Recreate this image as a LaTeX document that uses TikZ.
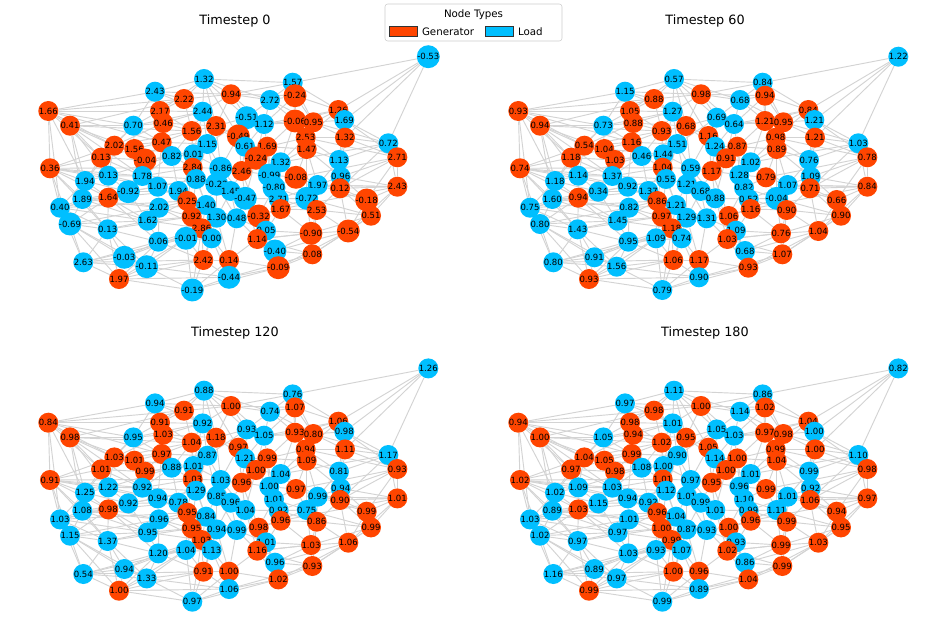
\documentclass[tikz,border=0pt]{standalone}
\usepackage{fontspec}
\setmainfont{DejaVu Sans}
\usetikzlibrary{%
    backgrounds,
    positioning
}
\definecolor{gencolor}{HTML}{FF4500}
\definecolor{loadcolor}{HTML}{00BFFF}
\definecolor{wirecolor}{HTML}{D3D3D3}
\tikzset{
    bus/.style = {circle, minimum size=15pt, inner sep=0pt, font=\fontsize{6.4}{6.4}\selectfont},
    gen/.style = {bus, fill=gencolor},
    load/.style = {bus, fill=loadcolor},
    wire/.style = {draw=wirecolor, line width=.7pt},
    paneltitle/.style = {font=\fontsize{9.6}{11}\selectfont},
    legendpatch/.style = {draw=black!80, line width=.4pt, minimum width=21pt, minimum height=7.5pt, inner sep=0pt},
    legendtext/.style = {font=\fontsize{7.7}{9}\selectfont, inner sep=0pt}
}
\newcommand\busedges{%
    a02/a03, a02/a04, a02/a12, a02/a06, a02/a20, a02/a15, a02/b02, a02/a09,
    a02/a07, a02/a10, a02/a01,
    a03/a07, a03/a15, a03/a19, a03/a10, a03/b02, a03/a13, a03/a08, a03/b11,
    a03/a06, a03/a14,
    a12/a10, a12/a20, a12/a15, a12/a22, a12/a07, a12/a24, a12/a14, a12/b19, a12/a17,
    a12/a13, a12/a19, a12/a18,
    a20/a22, a20/a19, a20/a26, a20/a18, a20/a24, a20/a23, a20/b32, a20/a16, a20/a15,
    a22/a26, a22/a24, a22/a27, a22/a29, a22/a23, a22/a28, a22/a21, a22/a18, a22/a19,
    a26/a29, a26/a27, a26/a28, a26/b42, a26/a25, a26/b46, a26/a24,
    a15/a13, a15/a19, a15/a16, a15/a10, a15/a18, a15/a07,
    a19/a18, a19/a16, a19/a23, a19/a21, a19/a24,
    a10/a07, a10/a13, a10/a08, a10/a11, a10/a14, a10/a06,
    a13/a14, a13/a18, a13/a16, a13/a17, a13/b17, a13/a07,
    a18/a16, a18/a24, a18/a21, a18/a25, a18/b31, a18/a23,
    a24/a27, a24/a23, a24/a25, a24/a29, a24/b36, a24/a28,
    a07/a06, a07/a08, a07/a09, a07/b11, a07/a05,
    a29/a28, a29/b50, a29/a27, a29/b46, a29/b42, a29/b49, a29/a25,
    a27/a28, a27/a25, a27/b40,
    a16/a14, a16/a17, a16/a23, a16/b31, a16/b26,
    a06/a01, a06/a04, a06/a05, a06/a08, a06/b07, a06/a09,
    a08/a11, a08/a09, a08/a14, a08/b18,
    a14/a11, a14/a17, a14/b17, a14/b26, a14/b19,
    a11/a09, a11/b17, a11/b18,
    a28/a25, a28/b42, a28/b49, a28/b50, a28/b46,
    a23/a21, a23/a25, a23/b36, a23/b32, a23/b40,
    a01/a04, a01/b01, a01/b02, a01/a05, a01/b07, a01/b03,
    a17/a21, a17/b31, a17/b26, a17/a09, a17/b32,
    a25/a21, a25/b42, a25/b40, a25/b43, a25/b46,
    a21/b32, a21/b36, a21/b33, a21/b40,
    a04/a05, a04/b02, a04/b07, a04/b11, a04/b01, a04/a09,
    a09/a05, a09/b17, a09/b16, a09/b11,
    a05/b07, a05/b11, a05/b12,
    b01/b02, b01/b03, b01/b07, b01/b04, b01/b08, b01/b12, b01/b05, b01/b13,
    b02/b07, b02/b11, b02/b03, b02/b12,
    b03/b04, b03/b08, b03/b12, b03/b07, b03/b06, b03/b05, b03/b09,
    b04/b05, b04/b06, b04/b09, b04/b08, b04/c04, b04/b10,
    b05/b06, b05/c01, b05/b10, b05/c02, b05/c04,
    b06/b10, b06/b09, b06/c04, b06/c02,
    b07/b11, b07/b12, b07/b16, b07/b18,
    b08/b09, b08/b13, b08/b14, b08/b12, b08/b16,
    b09/b10, b09/b15, b09/b14, b09/b20,
    b10/c04, b10/b15, b10/c05, b10/b21, b10/c02,
    b11/b16, b11/b18, b11/b17, b11/b12, b11/b19,
    b12/b13, b12/b16, b12/b14, b12/b22,
    b13/b14, b13/b20, b13/b22, b13/b23,
    b14/b15, b14/b20, b14/b23, b14/b24,
    b15/b20, b15/b21, b15/c07, b15/b24, b15/b29,
    b16/b18, b16/b22, b16/b26, b16/b27,
    b17/b18, b17/b19, b17/b31,
    b18/b19, b18/b26, b18/b22,
    b19/b26, b19/b31, b19/b32, b19/b22, b19/b33,
    b20/b23, b20/b24, b20/b21, b20/b30,
    b21/b24, b21/b25, b21/c07, b21/c05, b21/b29, b21/c12,
    b22/b23, b22/b27, b22/b28, b22/b30,
    b23/b28, b23/b30, b23/b24, b23/b39,
    b24/b29, b24/b34, b24/b25, b24/b35,
    b25/c07, b25/c12, b25/c15, b25/b29,
    b26/b27, b26/b31, b26/b33, b26/b36,
    b27/b28, b27/b33, b27/b37, b27/b38,
    b28/b30, b28/b38, b28/b37, b28/b39,
    b29/b34, b29/c15, b29/b39, b29/b35,
    b30/b38, b30/b39, b30/b34, b30/b44,
    b31/b32, b31/b36, b31/b40,
    b32/b33, b32/b36, b32/b40, b32/b42,
    b33/b37, b33/b40, b33/b43, b33/b38,
    b34/b35, b34/c15, b34/c17, b34/c12,
    b35/b39, b35/b41, b35/c17, b35/c19,
    b36/b40, b36/b42, b36/b43,
    b37/b38, b37/b43, b37/b47, b37/b46,
    b38/b39, b38/b41, b38/b44, b38/b47,
    b39/b41, b39/b44, b39/b45,
    b40/b42, b40/b43, b40/b46, b40/b50,
    b41/b44, b41/b45, b41/c19, b41/b48,
    b42/b46, b42/b50,
    b43/b46, b43/b47, b43/b49,
    b44/b45, b44/b47, b44/b48, b44/c19,
    b45/b48, b45/c21, b45/c19,
    b46/b47, b46/b50, b46/b49,
    b47/b49, b47/b48, b47/b50,
    b48/b49, b48/c21, b48/c20, b48/b50,
    b49/b50, b49/c21,
    c01/c02, c01/c03, c01/c06, c01/c08,
    c02/c03, c02/c04, c02/c06, c02/c05, c02/b09,
    c03/c06, c03/c08, c03/c04, c03/c10, c03/c09,
    c04/c05, c04/c07, c04/c06, c04/b09,
    c05/c07, c05/c06, c05/c10, c05/c09, c05/b15,
    c06/c08, c06/c10, c06/c09, c06/c11,
    c07/c10, c07/c12, c07/c11, c07/c15,
    c08/c09, c08/c14, c08/c10, c08/c04, c08/b21, c08/c13,
    c09/c14, c09/c11, c09/c16, c09/b25, c09/c13,
    c10/c11, c10/c13, c10/c12,
    c11/c13, c11/c12, c11/c14, c11/c16,
    c12/c13, c12/c15, c12/c17, c12/c14,
    c13/c16, c13/c14, c13/c17, c13/c18,
    c14/c16, c14/c18, c14/b35, c14/c12, c14/c20,
    c15/c17, c15/c19, c15/b39,
    c16/c18, c16/c20, c16/c12,
    c17/c19, c17/c20, c17/c18, c17/c21,
    c18/c20, c18/c21, c18/c19, c18/c15,
    c19/c21, c19/c20, c19/b44,
    c20/c21, c20/b45, c20/c13, c21/b44}

\begin{document}
\begin{tikzpicture}[x=.75pt, y=-.75pt]
    \path[use as bounding box] (0,0) rectangle (947,635);

    \node[paneltitle] (title0) at (235,20.5) {Timestep 0};
    \node[paneltitle] (title60) at (705,20.5) {Timestep 60};
    \node[paneltitle] (title120) at (235,333) {Timestep 120};
    \node[paneltitle] (title180) at (705,333) {Timestep 180};

    % one bus per row: position in the first panel, type, value at t = 0, 60, 120, 180
    \foreach \id/\x/\y/\kind/\la/\lb/\lc/\ld in {%
        a01/155.0/91.7/load/2.43/1.15/0.94/0.97,
        a02/48.3/111.0/gen/1.66/0.93/0.84/0.94,
        a03/70.0/125.7/gen/0.41/0.94/0.98/1.00,
        a04/160.0/111.0/gen/2.17/1.05/0.91/0.98,
        a05/163.3/123.0/gen/0.46/0.88/1.03/0.94,
        a06/133.3/125.7/load/0.70/0.73/0.95/1.05,
        a07/114.3/145.7/gen/2.02/0.54/1.03/1.04,
        a08/134.3/149.0/gen/1.56/1.04/1.01/1.05,
        a09/161.7/142.3/gen/0.47/1.16/0.97/0.99,
        a10/101.0/157.7/gen/0.13/1.18/1.01/0.97,
        a11/145.0/160.0/gen/-0.04/1.03/0.99/0.98,
        a12/50.0/168.3/gen/0.36/0.74/0.91/1.02,
        a13/108.3/175.7/load/0.13/1.14/1.22/1.09,
        a14/142.3/176.0/load/1.78/1.37/0.92/1.03,
        a15/85.0/181.0/load/1.94/1.18/1.25/1.02,
        a16/128.3/191.7/load/-0.92/0.34/0.92/1.15,
        a17/157.7/186.7/load/1.07/0.92/0.94/0.94,
        a18/108.3/197.7/gen/1.64/0.94/0.98/1.03,
        a19/82.3/199.0/load/1.89/1.60/1.08/0.89,
        a20/60.0/207.7/load/0.40/0.75/1.03/1.03,
        a21/159.0/207.7/load/2.02/0.82/0.96/1.01,
        a22/70.0/224.0/load/-0.69/0.80/1.15/1.02,
        a23/147.7/220.7/load/1.62/1.45/0.95/0.97,
        a24/107.7/229.3/load/0.13/1.43/1.37/0.97,
        a25/158.3/241.7/load/0.06/0.95/1.20/1.03,
        a26/83.3/262.3/load/2.63/0.80/0.54/1.16,
        a27/124.3/257.3/load/-0.03/0.91/0.94/0.89,
        a28/146.7/266.7/load/-0.11/1.56/1.33/0.97,
        a29/119.0/279.0/gen/1.97/0.93/1.00/0.99,
        b01/204.0/79.0/load/1.32/0.57/0.88/1.11,
        b02/184.0/99.0/gen/2.22/0.88/0.91/0.98,
        b03/231.0/94.3/gen/0.94/0.98/1.00/1.00,
        b04/270.0/100.0/load/2.72/0.68/0.74/1.14,
        b05/292.7/82.7/load/1.57/0.84/0.76/0.86,
        b06/295.0/95.7/gen/-0.24/0.94/1.07/1.02,
        b07/202.7/111.7/load/2.44/1.27/0.92/1.01,
        b08/246.7/117.7/load/-0.51/0.69/0.93/1.05,
        b09/264.0/124.0/load/1.12/0.64/1.05/1.03,
        b10/295.0/121.0/gen/-0.06/1.21/0.93/0.97,
        b11/191.7/131.0/gen/1.56/0.93/1.04/1.02,
        b12/216.0/126.0/gen/2.31/0.68/1.18/0.95,
        b13/238.3/136.0/gen/-0.49/1.16/0.97/1.05,
        b14/245.0/146.7/load/0.61/1.24/1.21/1.14,
        b15/267.3/146.7/gen/1.69/0.87/0.99/1.00,
        b16/207.3/144.0/load/1.15/1.51/0.87/0.90,
        b17/171.7/156.0/load/0.82/0.46/0.88/1.08,
        b18/193.3/154.3/load/0.01/1.44/1.01/1.00,
        b19/192.7/167.7/gen/2.84/1.04/1.03/1.01,
        b20/256.0/158.3/gen/-0.24/0.91/1.00/1.00,
        b21/280.7/162.3/load/1.32/1.02/1.04/1.01,
        b22/220.7/168.3/load/-0.86/0.59/1.03/0.97,
        b23/241.7/171.0/gen/2.46/1.17/0.96/0.95,
        b24/269.3/175.0/load/-0.99/1.28/1.00/0.96,
        b25/296.0/177.3/gen/-0.08/0.79/0.97/0.99,
        b26/196.0/179.0/load/0.88/0.55/1.29/1.12,
        b27/216.7/184.3/load/-0.22/1.21/0.85/1.01,
        b28/230.7/191.0/load/1.45/0.68/0.96/0.99,
        b29/274.0/187.7/load/-0.80/0.82/1.01/1.10,
        b30/245.3/198.3/load/-0.47/0.88/1.04/1.01,
        b31/178.3/191.0/load/1.94/1.37/0.78/0.92,
        b32/187.3/201.0/gen/0.25/0.86/0.95/0.96,
        b33/206.0/205.0/load/1.40/1.21/0.84/1.04,
        b34/278.7/199.0/load/2.71/0.52/0.92/0.99,
        b35/280.7/209.0/gen/1.67/1.16/0.96/0.96,
        b36/191.7/216.7/gen/0.92/0.97/0.95/1.00,
        b37/216.7/217.7/load/1.30/1.29/0.94/0.87,
        b38/236.7/218.3/load/0.48/1.31/0.99/0.93,
        b39/258.7/216.0/gen/-0.32/1.06/0.98/1.00,
        b40/201.7/228.3/gen/2.86/1.18/1.03/0.99,
        b41/266.0/230.7/load/0.05/1.09/1.01/0.93,
        b42/186.0/238.3/load/-0.01/1.09/1.04/0.93,
        b43/211.7/238.3/load/0.00/0.74/1.13/1.07,
        b44/257.3/239.0/gen/1.14/1.03/1.16/1.02,
        b45/275.0/251.0/load/-0.40/0.68/0.96/0.86,
        b46/203.3/260.0/gen/2.42/1.06/0.91/1.00,
        b47/229.0/260.0/gen/0.14/1.17/1.00/0.96,
        b48/278.3/267.7/gen/-0.09/0.93/1.02/1.04,
        b49/229.0/277.3/load/-0.44/0.90/1.06/0.89,
        b50/192.3/290.0/load/-0.19/0.79/0.97/0.99,
        c01/428.3/56.7/load/-0.53/1.22/1.26/0.82,
        c02/338.3/110.0/gen/1.26/0.84/1.06/1.04,
        c03/344.3/120.0/load/1.69/1.21/0.98/1.00,
        c04/313.3/122.3/gen/0.95/0.95/0.80/0.98,
        c05/305.7/137.7/gen/2.53/0.98/0.94/0.99,
        c06/345.0/137.7/gen/1.32/1.21/1.11/1.00,
        c07/306.7/149.0/gen/1.47/0.89/1.09/1.04,
        c08/388.3/143.3/load/0.72/1.03/1.17/1.10,
        c09/397.3/157.3/gen/2.71/0.78/0.93/0.98,
        c10/339.0/160.0/load/1.13/0.76/0.81/0.99,
        c11/340.7/176.7/load/0.96/1.09/0.94/0.92,
        c12/317.7/185.0/load/1.97/1.07/0.99/1.01,
        c13/340.0/188.3/gen/0.12/0.71/0.90/1.06,
        c14/397.3/186.7/gen/2.43/0.84/1.01/0.97,
        c15/306.7/198.3/load/-0.72/-0.04/0.75/1.11,
        c16/366.7/200.0/gen/-0.18/0.66/0.99/0.94,
        c17/316.7/210.0/gen/2.53/0.90/0.86/0.99,
        c18/371.0/215.7/gen/0.51/0.90/0.99/0.95,
        c19/311.0/233.3/gen/-0.90/0.76/1.03/0.99,
        c20/348.3/231.0/gen/-0.54/1.04/1.06/1.03,
        c21/312.3/254.3/gen/0.08/1.07/0.93/0.99}
        {
        \node[\kind] (p0-\id) at (\x,\y) {\la};
        \node[\kind] (p1-\id) at (\x+470,\y) {\lb};
        \node[\kind] (p2-\id) at (\x,\y+311.7) {\lc};
        \node[\kind] (p3-\id) at (\x+470,\y+311.7) {\ld};
        }

    \begin{scope}[on background layer]
        \foreach \p in {0,1,2,3}
            \foreach \s/\t in \busedges
                \draw[wire] (p\p-\s) -- (p\p-\t);
    \end{scope}

    % legend
    \node[draw=black!20, fill=white, rounded corners=2pt, minimum width=132.75pt, minimum height=27.75pt] (legend) at (473.5,22.5) {};
    \node[legendtext] (legtitle) at (473.5,14.5) {Node Types};
    \node[legendpatch, fill=gencolor] (genpatch) at (403.5,31.5) {};
    \node[legendtext, right=3pt of genpatch] (gentext) {Generator};
    \node[legendpatch, fill=loadcolor] (loadpatch) at (499.5,31.5) {};
    \node[legendtext, right=3pt of loadpatch] (loadtext) {Load};
\end{tikzpicture}
\end{document}
